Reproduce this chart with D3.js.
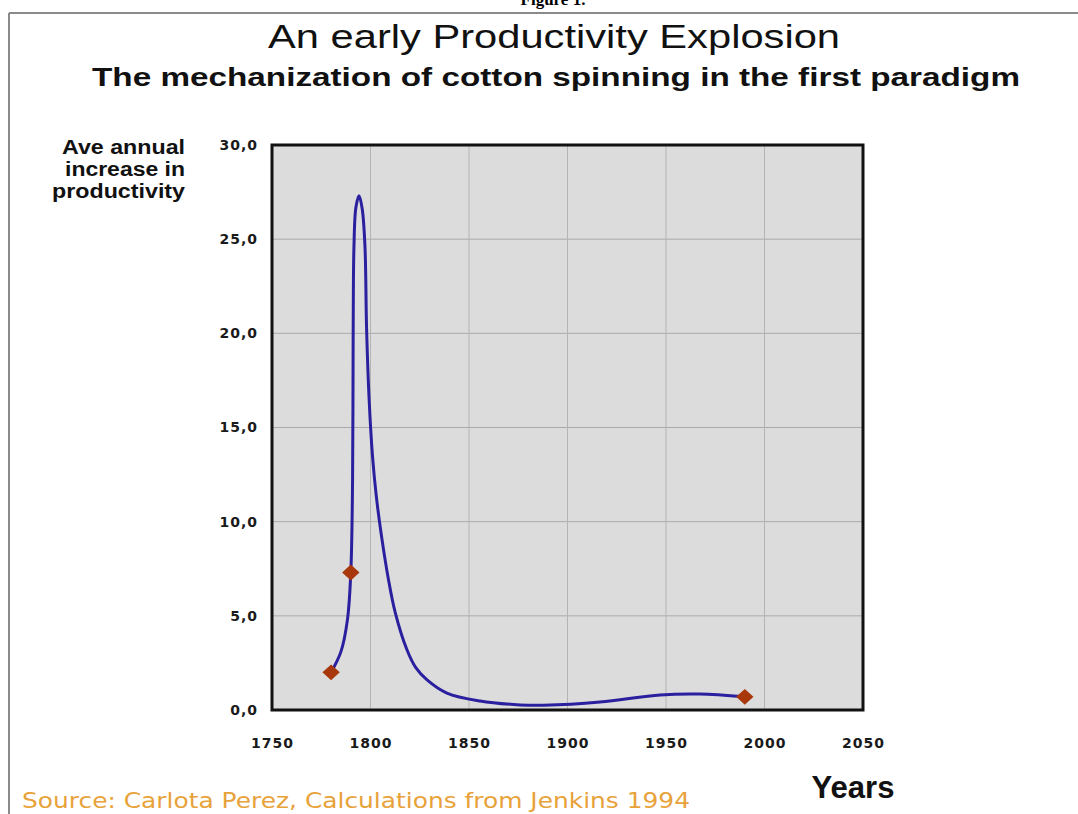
<!DOCTYPE html>
<html>
<head>
<meta charset="utf-8">
<script src="https://cdn.jsdelivr.net/npm/d3@7"></script>
<style>
  body { margin: 0; background: #fff; }
  svg { display: block; }
</style>
</head>
<body>
<svg id="chart" width="1078" height="814"></svg>
<script>
// curve (year, avg annual increase in productivity)
const curveYears  = [1780, 1785, 1788.3, 1790, 1790.9, 1791.2, 1791.6, 1792.6, 1794.2, 1795.8, 1797.2, 1798, 1799.3, 1801, 1803, 1805.5, 1809, 1812.5, 1818.5, 1823, 1828.7, 1838.8, 1855.6, 1875.9, 1888, 1916.5, 1947, 1967, 1990];
const curveValues = [2.0, 3.1, 4.8, 7.3, 12.2, 20.0, 24.6, 26.7, 27.3, 26.6, 24.6, 20.3, 16.5, 13.5, 11.3, 9.3, 7.0, 5.2, 3.2, 2.25, 1.6, 0.9, 0.48, 0.27, 0.25, 0.42, 0.8, 0.85, 0.7];

// data points with markers
const markerYears  = [1780, 1790, 1990];
const markerValues = [2.0, 7.3, 0.7];

const xTicks = [1750, 1800, 1850, 1900, 1950, 2000, 2050];
const yTicks = [0, 5, 10, 15, 20, 25, 30];
const yLabelLines = ['Ave annual', 'increase in', 'productivity'];
const yLabelWidths = [123, 120, 133];

const svg = d3.select('#chart');
const plot = { left: 272, right: 863, top: 145, bottom: 710 };

const x = d3.scaleLinear().domain([1750, 2050]).range([plot.left, plot.right]);
const y = d3.scaleLinear().domain([0, 30]).range([plot.bottom, plot.top]);
const fmt = d => d3.format('.1f')(d).replace('.', ',');

// frame lines of the page
svg.append('line').attr('x1', 9).attr('x2', 1078).attr('y1', 13).attr('y2', 13)
  .attr('stroke', '#8a8a8a').attr('stroke-width', 2);
svg.append('line').attr('x1', 9).attr('x2', 9).attr('y1', 13).attr('y2', 814)
  .attr('stroke', '#8a8a8a').attr('stroke-width', 2);

// cut-off caption at the very top
svg.append('text').attr('x', 553).attr('y', 5).attr('text-anchor', 'middle')
  .style('font', 'bold 17px "Liberation Serif", serif').text('Figure 1.');

// titles
svg.append('text').attr('x', 554).attr('y', 48).attr('text-anchor', 'middle')
  .attr('textLength', 572).attr('lengthAdjust', 'spacingAndGlyphs')
  .style('font', '34px "Liberation Sans", Arial, sans-serif').attr('fill', '#111')
  .text('An early Productivity Explosion');
svg.append('text').attr('x', 556).attr('y', 86).attr('text-anchor', 'middle')
  .attr('textLength', 928).attr('lengthAdjust', 'spacingAndGlyphs')
  .style('font', 'bold 26px "Liberation Sans", Arial, sans-serif').attr('fill', '#111')
  .text('The mechanization of cotton spinning in the first paradigm');

// plot background
svg.append('rect').attr('x', plot.left).attr('y', plot.top)
  .attr('width', plot.right - plot.left).attr('height', plot.bottom - plot.top)
  .attr('fill', '#dcdcdc');

// gridlines
svg.append('g').selectAll('line').data(yTicks.slice(1, -1)).enter().append('line')
  .attr('x1', plot.left).attr('x2', plot.right)
  .attr('y1', d => y(d)).attr('y2', d => y(d))
  .attr('stroke', '#aaaaaa').attr('stroke-width', 1);
svg.append('g').selectAll('line').data(xTicks.slice(1, -1)).enter().append('line')
  .attr('x1', d => x(d)).attr('x2', d => x(d))
  .attr('y1', plot.top).attr('y2', plot.bottom)
  .attr('stroke', '#b4b4b4').attr('stroke-width', 1);

// axes (labels only, the frame is drawn separately)
const yAxis = svg.append('g').attr('transform', `translate(${plot.left},0)`)
  .call(d3.axisLeft(y).tickValues(yTicks).tickFormat(fmt).tickSize(0).tickPadding(14));
const xAxis = svg.append('g').attr('transform', `translate(0,${plot.bottom})`)
  .call(d3.axisBottom(x).tickValues(xTicks).tickFormat(d3.format('d')).tickSize(0).tickPadding(28));
[yAxis, xAxis].forEach(a => {
  a.select('.domain').remove();
  a.selectAll('text')
    .style('font', 'bold 14px "DejaVu Sans", Verdana, sans-serif')
    .style('letter-spacing', '1px')
    .attr('fill', '#1a1a1a');
});

// curve
const line = d3.line()
  .x((d, i) => x(curveYears[i]))
  .y(d => y(d))
  .curve(d3.curveCatmullRom.alpha(0.5));
svg.append('path').datum(curveValues)
  .attr('d', line)
  .attr('fill', 'none')
  .attr('stroke', '#2a1f9e')
  .attr('stroke-width', 3);

// markers
svg.append('g').selectAll('path').data(markerValues).enter().append('path')
  .attr('d', d3.symbol(d3.symbolSquare, 125))
  .attr('transform', (d, i) => `translate(${x(markerYears[i])},${y(d)}) scale(1.1,1) rotate(45)`)
  .attr('fill', '#a8380c');

// plot border
svg.append('rect').attr('x', plot.left).attr('y', plot.top)
  .attr('width', plot.right - plot.left).attr('height', plot.bottom - plot.top)
  .attr('fill', 'none').attr('stroke', '#111').attr('stroke-width', 3);

// y axis title
svg.append('text').attr('text-anchor', 'end')
  .style('font', 'bold 20px "Liberation Sans Narrow", "Arial Narrow", sans-serif').attr('fill', '#111')
  .selectAll('tspan').data(yLabelLines).enter().append('tspan')
  .attr('x', 185).attr('y', (d, i) => 154 + i * 22)
  .attr('textLength', (d, i) => yLabelWidths[i]).attr('lengthAdjust', 'spacingAndGlyphs')
  .text(d => d);

// x axis title
svg.append('text').attr('x', 853).attr('y', 798).attr('text-anchor', 'middle')
  .attr('textLength', 83).attr('lengthAdjust', 'spacingAndGlyphs')
  .style('font', 'bold 32px "Liberation Sans Narrow", "Arial Narrow", sans-serif').attr('fill', '#111')
  .text('Years');

// source
svg.append('text').attr('x', 22).attr('y', 808)
  .attr('textLength', 668).attr('lengthAdjust', 'spacingAndGlyphs')
  .style('font', '22px "Comic Sans MS", "DejaVu Sans", sans-serif').attr('fill', '#e8a23a')
  .text('Source: Carlota Perez, Calculations from Jenkins 1994');
</script>
</body>
</html>
